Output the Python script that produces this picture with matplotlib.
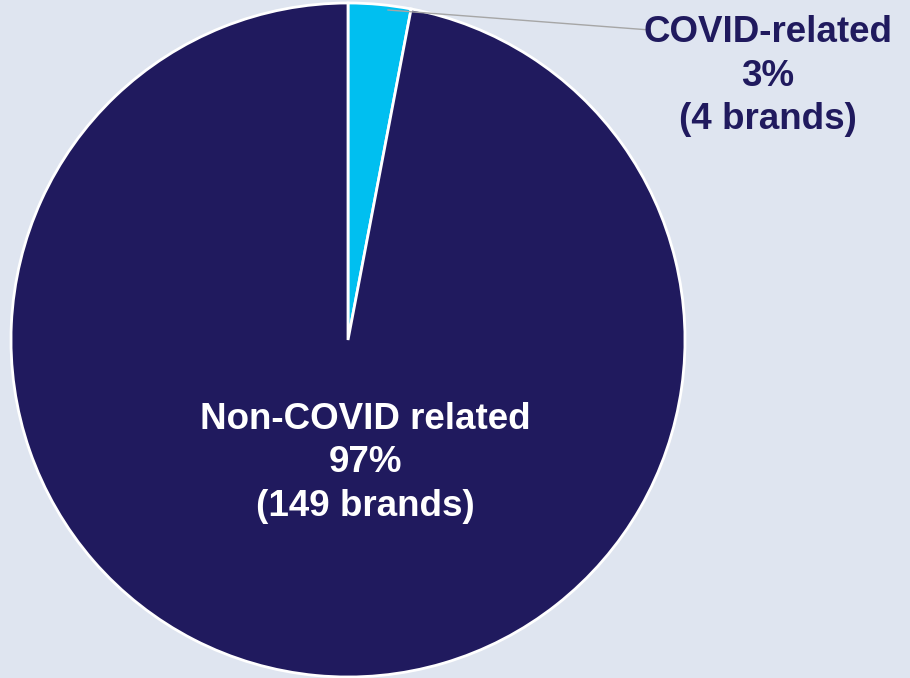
import matplotlib.pyplot as plt

# Share of brands
labels = ['COVID-related', 'Non-COVID related']
shares = [3, 97]  # percent
brands = [4, 149]
colors = ['#00BFF0', '#201A5E']
bg = '#DFE5F0'

plt.rcParams['font.family'] = ['Liberation Sans', 'DejaVu Sans']

fig = plt.figure(figsize=(9.1, 6.78), dpi=100, facecolor=bg)
W, H = 910, 678
cx, cy, r = 348, 340, 337
ax = fig.add_axes([(cx - r) / W, (H - cy - r) / H, 2 * r / W, 2 * r / H])
ax.set_facecolor(bg)

wedges, _ = ax.pie(shares, colors=colors, startangle=90, counterclock=False,
                   wedgeprops=dict(edgecolor='white', linewidth=2))
ax.set_xlim(-1, 1)
ax.set_ylim(-1, 1)
ax.set_aspect('equal')
ax.axis('off')

def px(x, y):
    return ((x - cx) / r, (cy - y) / r)

# leader line for the small slice
p0 = px(388, 10)
p1 = px(650, 30)
ax.plot([p0[0], p1[0]], [p0[1], p1[1]], color='#A6A6A6', lw=1, clip_on=False)

tx, ty = px(768, 76)
ax.text(tx, ty, f'{labels[0]}\n{shares[0]}%\n({brands[0]} brands)',
        ha='center', va='center', fontsize=26.5, fontweight='bold',
        color=colors[1], linespacing=1.3)

tx, ty = px(365, 463)
ax.text(tx, ty, f'{labels[1]}\n{shares[1]}%\n({brands[1]} brands)',
        ha='center', va='center', fontsize=26.5, fontweight='bold',
        color='white', linespacing=1.3)

fig.savefig('out.png', dpi=100, facecolor=bg)
